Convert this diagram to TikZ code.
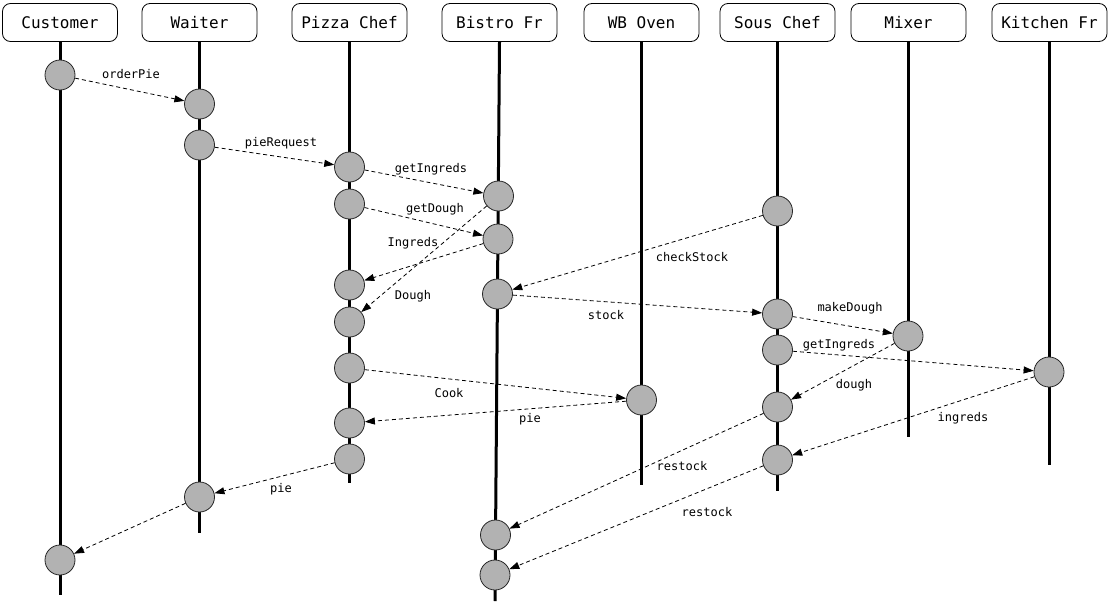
\documentclass[tikz,border=0pt]{standalone}
\usepackage{fontspec}
\setmonofont{DejaVu Sans Mono}
\usetikzlibrary{arrows.meta, positioning}

\begin{document}
\begin{tikzpicture}[
    x=1pt, y=-1pt,
    actor/.style={rectangle, draw, rounded corners=8pt, minimum width=115pt, minimum height=38pt, inner sep=0pt, line width=0.8pt, font=\ttfamily\fontsize{16}{18}\selectfont},
    act/.style={circle, draw=black!85, fill=gray!60, minimum size=30pt, inner sep=0pt, line width=0.8pt},
    life/.style={line width=3pt},
    msg/.style={-{Triangle[length=10pt,width=7pt]}, dash pattern=on 4pt off 3pt, line width=0.8pt},
    lbl/.style={font=\ttfamily\fontsize{12}{14}\selectfont, inner sep=1pt}
]
\useasboundingbox (0,0) rectangle (1110,605);

% Actors
\node[actor] (cust) at (60,22.5) {Customer};
\node[actor] (waiter) at (199.5,22.5) {Waiter};
\node[actor] (pizza) at (349.5,22.5) {Pizza Chef};
\node[actor] (bistro) at (499.5,22.5) {Bistro Fr};
\node[actor] (oven) at (641.5,22.5) {WB Oven};
\node[actor] (sous) at (777.5,22.5) {Sous Chef};
\node[actor] (mixer) at (908.5,22.5) {Mixer};
\node[actor] (kitchen) at (1049.5,22.5) {Kitchen Fr};

% Lifelines
\coordinate (custEnd) at (60,595);
\coordinate (waiterEnd) at (199.5,533);
\coordinate (pizzaEnd) at (349.5,483);
\coordinate (bistroEnd) at (495,601);
\coordinate (ovenEnd) at (641.5,485);
\coordinate (sousEnd) at (777.5,491);
\coordinate (mixerEnd) at (908.5,437);
\coordinate (kitchenEnd) at (1049.5,465);
\draw[life] (cust.south) -- (custEnd);
\draw[life] (waiter.south) -- (waiterEnd);
\draw[life] (pizza.south) -- (pizzaEnd);
\draw[life] (bistro.south) -- (bistroEnd);
\draw[life] (oven.south) -- (ovenEnd);
\draw[life] (sous.south) -- (sousEnd);
\draw[life] (mixer.south) -- (mixerEnd);
\draw[life] (kitchen.south) -- (kitchenEnd);

% Activations
\node[act] (cu1) at (60,75) {};
\node[act] (cu2) at (60,560) {};
\node[act] (wa1) at (199.5,104) {};
\node[act] (wa2) at (199.5,145) {};
\node[act] (wa3) at (199.5,497) {};
\node[act] (pc1) at (349.5,167) {};
\node[act] (pc2) at (349.5,204) {};
\node[act] (pc3) at (349.5,285) {};
\node[act] (pc4) at (349.5,322) {};
\node[act] (pc5) at (349.5,368) {};
\node[act] (pc6) at (349.5,423) {};
\node[act] (pc7) at (349.5,459) {};
\node[act] (bf1) at (498.5,196) {};
\node[act] (bf2) at (498,239) {};
\node[act] (bf3) at (497.5,294) {};
\node[act] (bf4) at (495.5,535) {};
\node[act] (bf5) at (495,575) {};
\node[act] (ov1) at (641.5,400) {};
\node[act] (sc1) at (777.5,211) {};
\node[act] (sc2) at (777.5,314) {};
\node[act] (sc3) at (777.5,350) {};
\node[act] (sc4) at (777.5,407) {};
\node[act] (sc5) at (777.5,460) {};
\node[act] (mx1) at (908,336) {};
\node[act] (kf1) at (1049,372) {};

% Messages
\draw[msg] (cu1) -- (wa1);
\draw[msg] (wa2) -- (pc1);
\draw[msg] (pc1) -- (bf1);
\draw[msg] (pc2) -- (bf2);
\draw[msg] (bf2) -- (pc3);
\draw[msg] (bf1) -- (pc4);
\draw[msg] (sc1) -- (bf3);
\draw[msg] (bf3) -- (sc2);
\draw[msg] (sc2) -- (mx1);
\draw[msg] (sc3) -- (kf1);
\draw[msg] (mx1) -- (sc4);
\draw[msg] (pc5) -- (ov1);
\draw[msg] (ov1) -- (pc6);
\draw[msg] (kf1) -- (sc5);
\draw[msg] (sc4) -- (bf4);
\draw[msg] (sc5) -- (bf5);
\draw[msg] (pc7) -- (wa3);
\draw[msg] (wa3) -- (cu2);

% Labels
\node[lbl] (lOrder) at (131,74) {orderPie};
\node[lbl] (lRequest) at (281,143) {pieRequest};
\node[lbl] (lGetIng) at (431,169) {getIngreds};
\node[lbl] (lGetDough) at (435,209) {getDough};
\node[lbl] (lIngreds) at (413,243) {Ingreds};
\node[lbl] (lDough) at (413,296) {Dough};
\node[lbl] (lCheck) at (692,257) {checkStock};
\node[lbl] (lStock) at (606,315) {stock};
\node[lbl] (lMake) at (850,308) {makeDough};
\node[lbl] (lGetIng2) at (839,345) {getIngreds};
\node[lbl] (lDough2) at (854,385) {dough};
\node[lbl] (lCook) at (449,393) {Cook};
\node[lbl] (lPie) at (530,419) {pie};
\node[lbl] (lIngreds2) at (963,418) {ingreds};
\node[lbl] (lRestock) at (682,466) {restock};
\node[lbl] (lRestock2) at (707,512) {restock};
\node[lbl] (lPie2) at (281,489) {pie};

\end{tikzpicture}
\end{document}
